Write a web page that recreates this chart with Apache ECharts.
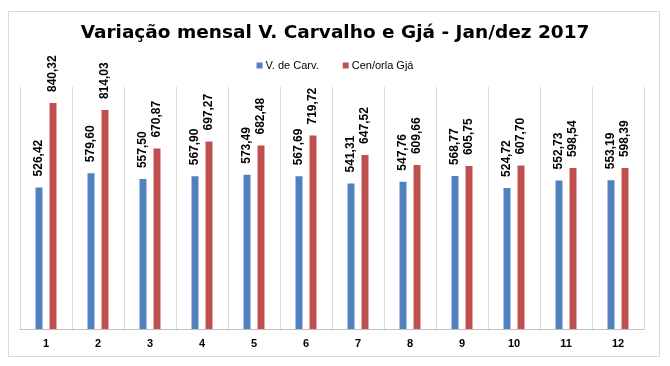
<!DOCTYPE html>
<html>
<head>
<meta charset="utf-8">
<script src="https://cdn.jsdelivr.net/npm/echarts@6/dist/echarts.min.js"></script>
<style>html,body{margin:0;padding:0;background:#fff;}#c{width:670px;height:366px;}</style>
</head>
<body>
<div id="c"></div>
<script>
var categories = ['1','2','3','4','5','6','7','8','9','10','11','12'];
var vCarvalho = [526.42, 579.60, 557.50, 567.90, 573.49, 567.69, 541.31, 547.76, 568.77, 524.72, 552.73, 553.19];
var cenOrlaGja = [840.32, 814.03, 670.87, 697.27, 682.48, 719.72, 647.52, 609.66, 605.75, 607.70, 598.54, 598.39];
var seriesNames = ['V. de Carv.', 'Cen/orla Gjá'];
var titleText = 'Variação mensal V. Carvalho e Gjá - Jan/dez 2017';

var chart = echarts.init(document.getElementById('c'), null, {renderer: 'canvas'});
var fmt = function (p) { return p.value.toFixed(2).replace('.', ','); };
var labelStyle = {
  show: true, position: 'top', rotate: 90, align: 'left', verticalAlign: 'middle',
  distance: 11, formatter: fmt, color: '#000', fontWeight: 'bold', fontSize: 12,
  fontFamily: 'Liberation Sans, Arial, sans-serif'
};
chart.setOption({
  animation: false,
  backgroundColor: '#fff',
  graphic: [{
    type: 'rect', shape: {x: 8.5, y: 11.5, width: 651, height: 345},
    style: {fill: 'none', stroke: '#d9d9d9', lineWidth: 1}, z: -1
  }],
  title: {
    text: titleText, left: 'center', top: 19,
    textStyle: {fontSize: 18.5, fontWeight: 'bold', color: '#000', fontFamily: 'DejaVu Sans, Liberation Sans, Arial, sans-serif'}
  },
  legend: {
    top: 55, left: 'center', itemWidth: 6, itemHeight: 6, itemGap: 24,
    icon: 'rect',
    textStyle: {fontSize: 11, color: '#000', fontFamily: 'Liberation Sans, Arial, sans-serif', padding: [0,0,0,-2]},
    data: seriesNames
  },
  grid: {left: 20, right: 26, top: 87, bottom: 37, containLabel: false},
  xAxis: {
    type: 'category', data: categories,
    axisLine: {lineStyle: {color: '#bfbfbf'}},
    axisTick: {show: false},
    splitLine: {show: true, lineStyle: {color: '#d9d9d9'}},
    axisLabel: {color: '#000', fontWeight: 'bold', fontSize: 11, margin: 9, fontFamily: 'Liberation Sans, Arial, sans-serif'}
  },
  yAxis: {
    type: 'value', min: 0, max: 900, show: false,
    splitLine: {show: false}
  },
  series: [
    {name: seriesNames[0], type: 'bar', data: vCarvalho, barWidth: 7, barGap: '100%',
     itemStyle: {color: '#4F81BD'}, label: labelStyle},
    {name: seriesNames[1], type: 'bar', data: cenOrlaGja, barWidth: 7, barGap: '100%',
     itemStyle: {color: '#C0504D'}, label: labelStyle}
  ]
});
</script>
</body>
</html>
